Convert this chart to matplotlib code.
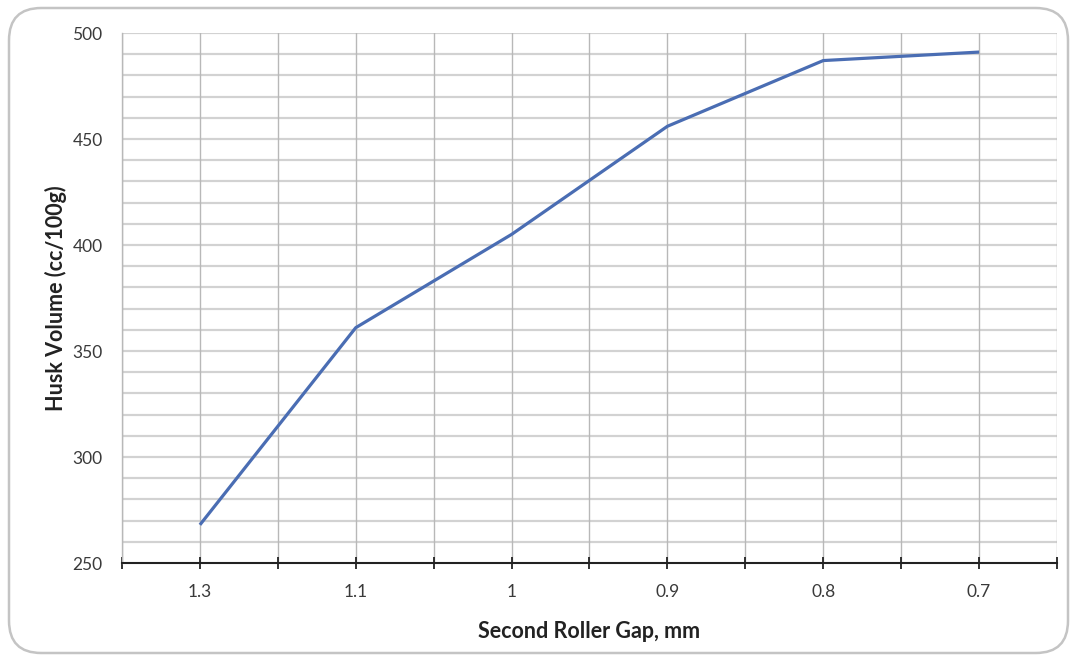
import matplotlib
matplotlib.use("Agg")
import matplotlib.pyplot as plt
from matplotlib.patches import FancyBboxPatch
import numpy as np

categories = ["1.3", "1.1", "1", "0.9", "0.8", "0.7"]
husk_volume = [268, 361, 405, 456, 487, 491]

plt.rcParams['font.family'] = ['Lato', 'DejaVu Sans']

fig = plt.figure(figsize=(10.76, 6.62), dpi=100)
fig.patch.set_facecolor('white')

# rounded frame
frame = FancyBboxPatch((9/1076, 9/662), 1059/1076, 645/662,
                       boxstyle="round,pad=0,rounding_size=0.03",
                       transform=fig.transFigure, facecolor='none',
                       edgecolor='#C4C4C4', linewidth=1.8, mutation_aspect=1076/662,
                       zorder=-5)
fig.patches.append(frame)

ax = fig.add_axes([122/1076, 1-563/662, (1057-122)/1076, (563-33)/662])
ax.set_facecolor('none')

x = np.arange(len(categories))
ax.set_xlim(-0.5, len(categories) - 0.5)
ax.set_ylim(250, 500)

# grid
for yv in np.arange(260, 501, 10):
    ax.axhline(yv, color='#D2D2D2', lw=1.6, zorder=1)
for xv in np.arange(-0.5, len(categories), 0.5):
    ax.axvline(xv, color='#B8B8B8', lw=1.0, zorder=1)

ax.plot(x, husk_volume, color='#4A6DB3', lw=2.3, zorder=3, solid_capstyle='butt')

ax.set_xticks(x)
ax.set_xticklabels(categories)
ax.set_xticks(np.arange(-0.5, len(categories), 0.5), minor=True)
ax.set_yticks([250, 300, 350, 400, 450, 500])

ax.tick_params(axis='x', which='both', direction='inout', length=9, width=1.3, color='#222222')
ax.tick_params(axis='x', which='major', pad=10.5, labelsize=12.5, labelcolor='#3A3A3A')
ax.tick_params(axis='y', which='both', length=0, pad=14, labelsize=12.5, labelcolor='#3A3A3A')

for s in ['top', 'right']:
    ax.spines[s].set_visible(False)
ax.spines['left'].set_color('#B8B8B8')
ax.spines['left'].set_linewidth(1.0)
ax.spines['bottom'].set_color('#222222')
ax.spines['bottom'].set_linewidth(1.5)
ax.spines['bottom'].set_zorder(4)

ax.set_xlabel("Second Roller Gap, mm", fontsize=15.5, fontweight='bold', color='#222222', labelpad=15)
ax.set_ylabel("Husk Volume (cc/100g)", fontsize=15.5, fontweight='bold', color='#222222', labelpad=4)

fig.savefig("out.png", dpi=100, facecolor='white')
